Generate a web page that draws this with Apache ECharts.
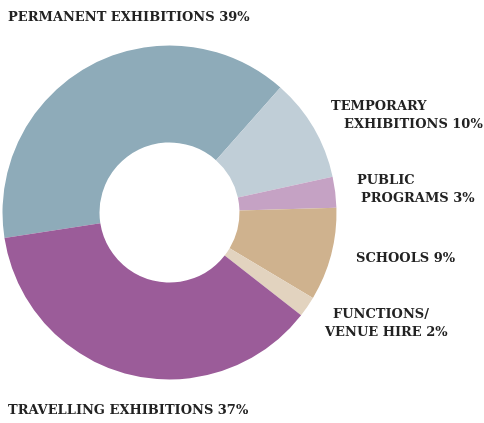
<!DOCTYPE html>
<html>
<head>
<meta charset="utf-8">
<script src="https://cdn.jsdelivr.net/npm/echarts@6/dist/echarts.min.js"></script>
<style>
html,body{margin:0;padding:0;background:#fff;}
#chart{width:484px;height:423px;}
</style>
</head>
<body>
<div id="chart"></div>
<script>
// Data
var categories = ['PERMANENT EXHIBITIONS', 'TEMPORARY EXHIBITIONS', 'PUBLIC PROGRAMS', 'SCHOOLS', 'FUNCTIONS/ VENUE HIRE', 'TRAVELLING EXHIBITIONS'];
var values = [39, 10, 3, 9, 2, 37];
var colors = ['#8eabb9', '#c0ced7', '#c5a2c4', '#cfb28e', '#e2d3bf', '#9b5c99'];
// label line breaks
var labelLines = [
  ['PERMANENT EXHIBITIONS'],
  ['TEMPORARY', 'EXHIBITIONS'],
  ['PUBLIC', 'PROGRAMS'],
  ['SCHOOLS'],
  ['FUNCTIONS/', 'VENUE HIRE'],
  ['TRAVELLING EXHIBITIONS']
];
// label anchor positions (left x, middle y) per line
var labelPos = [
  [[8, 18]],
  [[331, 107], [344, 125]],
  [[357, 181], [361, 199]],
  [[356, 259]],
  [[333, 315], [325, 333]],
  [[8, 411]]
];

var FONT = '"DejaVu Serif", serif';
var graphics = [];
categories.forEach(function (c, i) {
  var lines = labelLines[i];
  lines.forEach(function (ln, j) {
    var txt = ln + (j === lines.length - 1 ? ' ' + values[i] + '%' : '');
    graphics.push({
      type: 'text',
      left: labelPos[i][j][0],
      top: labelPos[i][j][1] - 7,
      style: {
        text: txt,
        font: 'bold 13px ' + FONT,
        fill: '#222222'
      },
      silent: true
    });
  });
});

var chart = echarts.init(document.getElementById('chart'), null, {renderer: 'canvas'});
chart.setOption({
  animation: false,
  backgroundColor: '#ffffff',
  graphic: graphics,
  series: [{
    type: 'pie',
    center: [169.5, 212.5],
    radius: [70, 167],
    startAngle: 188.8,
    clockwise: true,
    label: {show: false},
    labelLine: {show: false},
    emphasis: {disabled: true},
    itemStyle: {borderWidth: 0},
    data: categories.map(function (c, i) {
      return {name: c, value: values[i], itemStyle: {color: colors[i]}};
    })
  }]
});
</script>
</body>
</html>
